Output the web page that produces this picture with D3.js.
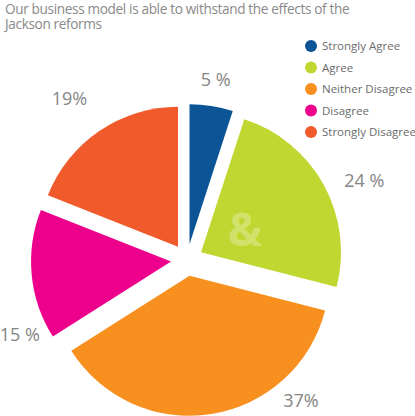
<!DOCTYPE html>
<html>
<head>
<meta charset="utf-8">
<script src="https://cdn.jsdelivr.net/npm/d3@7"></script>
<style>
  body { margin: 0; background: #fff; }
  text { font-family: "Open Sans", sans-serif; }
</style>
</head>
<body>
<div id="chart"></div>
<script>
const categories = ["Strongly Agree", "Agree", "Neither Disagree", "Disagree", "Strongly Disagree"];
const values = [5, 24, 37, 15, 19];
const valueLabels = ["5 %", "24 %", "37%", "15 %", "19%"];
const colors = ["#0b5496", "#bfd730", "#f7901e", "#ec008c", "#f15a2b"];
const titleLines = ["Our business model is able to withstand the effects of the", "Jackson reforms"];

// where the percentage labels sit: degrees clockwise from 12 o'clock, and distance from centre
const labelAngles = [9, 66, 141, 246, 324];
const labelRadii = [183, 194, 181, 183, 200];

const width = 415, height = 416;
const cx = 187, cy = 260, radius = 140, explode = 16;

const svg = d3.select("#chart")
  .append("svg")
  .attr("width", width)
  .attr("height", height)
  .attr("viewBox", `0 0 ${width} ${height}`);

// title
svg.append("g")
  .selectAll("text")
  .data(titleLines)
  .join("text")
    .attr("x", 5)
    .attr("y", (d, i) => 14 + i * 15)
    .attr("font-size", 13.6)
    .attr("letter-spacing", -0.35)
    .attr("fill", "#898989")
    .text(d => d);

const color = d3.scaleOrdinal().domain(categories).range(colors);

const pie = d3.pie().sort(null).value(d => d.value);
const arcs = pie(categories.map((c, i) => ({ name: c, value: values[i] })));
const arc = d3.arc().innerRadius(0).outerRadius(radius);

const pieG = svg.append("g")
  .attr("transform", `translate(${cx},${cy})`);

pieG.selectAll("path")
  .data(arcs)
  .join("path")
    .attr("d", arc)
    .attr("fill", d => color(d.data.name))
    .attr("transform", d => {
      const mid = (d.startAngle + d.endAngle) / 2;
      return `translate(${explode * Math.sin(mid)},${-explode * Math.cos(mid)})`;
    });

// faint logo mark over the pie
pieG.append("text")
  .attr("x", 58)
  .attr("y", -14)
  .attr("text-anchor", "middle")
  .attr("font-family", "DejaVu Sans")
  .attr("font-weight", "bold")
  .attr("font-size", 46)
  .attr("fill", "#fff")
  .attr("fill-opacity", 0.28)
  .text("&");

// percentage labels
pieG.selectAll("text.pct")
  .data(arcs)
  .join("text")
    .attr("class", "pct")
    .attr("x", (d, i) => labelRadii[i] * Math.sin(labelAngles[i] * Math.PI / 180))
    .attr("y", (d, i) => -labelRadii[i] * Math.cos(labelAngles[i] * Math.PI / 180))
    .attr("dy", "0.35em")
    .attr("text-anchor", "middle")
    .attr("font-size", 18)
    .attr("fill", "#858585")
    .text((d, i) => valueLabels[i]);

// legend
const legend = svg.append("g")
  .attr("transform", "translate(311,46)");

const item = legend.selectAll("g")
  .data(categories)
  .join("g")
    .attr("transform", (d, i) => `translate(0,${i * 21.5})`);

item.append("circle")
  .attr("r", 6)
  .attr("fill", d => color(d));

item.append("text")
  .attr("x", 11)
  .attr("dy", "0.35em")
  .attr("font-size", 11.5)
  .attr("fill", "#6b6b6b")
  .text(d => d);
</script>
</body>
</html>
